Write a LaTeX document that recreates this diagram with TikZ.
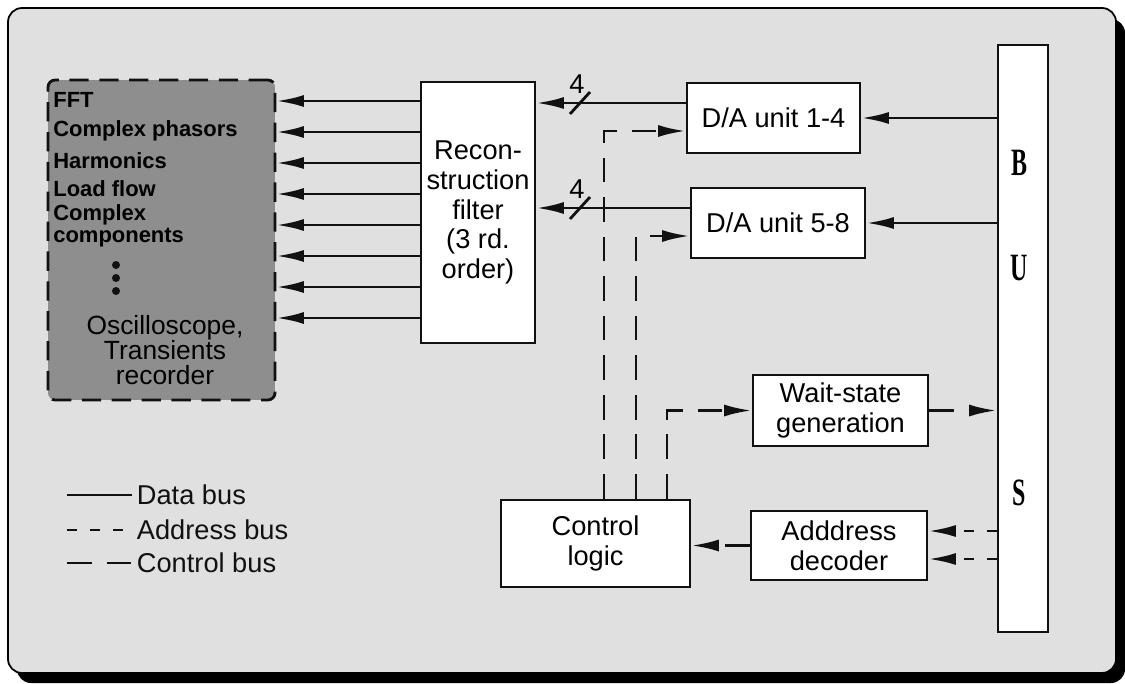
\documentclass[tikz,border=0pt]{standalone}
\usepackage{fontspec}
\setmainfont{Liberation Sans}
\newfontfamily\busfont{Liberation Serif}
\usetikzlibrary{positioning, arrows.meta, calc}
\definecolor{panelGray}{HTML}{E0E0E0}
\definecolor{scopeGray}{HTML}{8E8E8E}
\definecolor{lineBlack}{HTML}{111111}
\tikzset{
  unit/.style={draw=lineBlack, line width=1.6pt, fill=white, align=center,
    inner sep=0pt, font=\fontsize{15.5}{17}\selectfont},
  scopebox/.style={draw=lineBlack, line width=1.6pt, fill=scopeGray,
    rounded corners=4pt, dash pattern=on 11pt off 6pt,
    minimum width=4.54cm, minimum height=6.4cm},
  scopelabel/.style={anchor=west, inner sep=0pt, align=left,
    font=\fontsize{12.5}{12.5}\selectfont\bfseries},
  legendtext/.style={anchor=west, inner sep=2pt, font=\fontsize{15.5}{17}\selectfont},
  arrowhd/.style={-{Latex[length=5.5mm,width=2.4mm]}},
  databus/.style={line width=1.6pt, lineBlack},
  addrbus/.style={line width=1.6pt, lineBlack, dash pattern=on 5.7pt off 7.4pt},
  ctrlbus/.style={line width=1.6pt, lineBlack, dash pattern=on 14pt off 8.5pt},
  busletter/.style={font=\busfont\fontsize{22}{22}\selectfont\bfseries},
}

\begin{document}
\begin{tikzpicture}[x=0.02cm, y=-0.02cm]
    \useasboundingbox (0,0) rectangle (1125,683);
    % ---- panel with shadow ----
    \fill[black, rounded corners=8pt] (17,19) rectangle (1125,683);
    \draw[line width=1pt, fill=panelGray, rounded corners=8pt]
      (8,8) rectangle (1116,673);

    % ---- blocks ----
    \node[scopebox] (scope) at (161.5,240) {};
    \node[unit, minimum width=2.28cm, minimum height=5.22cm] (filt) at (478,212.5)
      {Recon-\\struction\\filter\\(3 rd.\\order)};
    \node[unit, minimum width=3.46cm, minimum height=1.4cm] (da1) at (773.5,118)
      {D/A unit 1-4};
    \node[unit, minimum width=3.48cm, minimum height=1.4cm] (da2) at (778,223)
      {D/A unit 5-8};
    \node[unit, minimum width=1.0cm, minimum height=11.74cm] (bus) at (1023,338.5) {};
    \node[unit, minimum width=3.5cm, minimum height=1.42cm] (wait) at (840.5,410.5)
      {Wait-state\\generation};
    \node[unit, minimum width=3.52cm, minimum height=1.38cm] (adec) at (839,545.5)
      {Adddress\\decoder};
    \node[unit, minimum width=3.78cm, minimum height=1.74cm] (ctrl) at (595.5,543.5)
      {Control\\logic};

    % ---- bus letters ----
    \node[busletter] (busB) at (1019,163) {\scalebox{0.62}[1]{B}};
    \node[busletter] (busU) at (1019,268) {\scalebox{0.62}[1]{U}};
    \node[busletter] (busS) at (1019,493) {\scalebox{0.62}[1]{S}};

    % ---- analysis functions ----
    \node[scopelabel] (fft) at (53,100) {FFT};
    \node[scopelabel] (phasor) at (53,131) {Complex phasors};
    \node[scopelabel] (harm) at (53,161) {Harmonics};
    \node[scopelabel] (lflow) at (53,189) {Load flow};
    \node[scopelabel] (comp) at (53,226) {Complex\\components};
    \foreach \d in {265,278,291}
      \fill[lineBlack] (116,\d) circle (4);
    \node[align=center, inner sep=0pt, font=\fontsize{15}{14}\selectfont]
      (osc) at (165,350) {Oscilloscope,\\Transients\\recorder};

    % ---- data bus ----
    \foreach \y in {101,132,163,194,225,256,287,318}
      \draw[databus, arrowhd] (filt.west |- 0,\y) -- (scope.east |- 0,\y);
    \draw[databus, arrowhd] (da1.west |- 0,103) -- (filt.east |- 0,103);
    \draw[databus, arrowhd] (da2.west |- 0,208) -- (filt.east |- 0,208);
    \draw[databus, arrowhd] (bus.west |- 0,118) -- (da1.east |- 0,118);
    \draw[databus, arrowhd] (bus.west |- 0,223) -- (da2.east |- 0,223);
    % 4-wire marks
    \coordinate (cut1) at (580,103);
    \coordinate (cut2) at (580,208);
    \foreach \c in {cut1,cut2} {
      \draw[databus] ($(\c)+(-10,11)$) -- ($(\c)+(10,-11)$);
      \node[font=\fontsize{15.5}{17}\selectfont, inner sep=0pt] at ($(\c)+(-3,-19)$) {4};
    }

    % ---- control bus ----
    \draw[ctrlbus, arrowhd] (ctrl.north -| 604,0) |- (da1.west |- 0,131);
    \draw[ctrlbus, arrowhd] (ctrl.north -| 636,0) |- (da2.west |- 0,236);
    \draw[ctrlbus, arrowhd] (ctrl.north -| 667,0) |- (wait.west);
    \draw[ctrlbus, arrowhd] (wait.east) -- (bus.west |- wait.east);
    \draw[ctrlbus, arrowhd] (adec.west) -- (ctrl.east |- adec.west);

    % ---- address bus ----
    \draw[addrbus, arrowhd] (bus.west |- 0,531) -- (adec.east |- 0,531);
    \draw[addrbus, arrowhd] (bus.west |- 0,559) -- (adec.east |- 0,559);

    % ---- legend ----
    \draw[databus] (67,495) -- (132,495) node[legendtext] (lgdata) {Data bus};
    \draw[addrbus] (67,530) -- (132,530) node[legendtext] (lgaddr) {Address bus};
    \draw[ctrlbus] (67,563) -- (132,563) node[legendtext] (lgctrl) {Control bus};
  \end{tikzpicture}
\end{document}
